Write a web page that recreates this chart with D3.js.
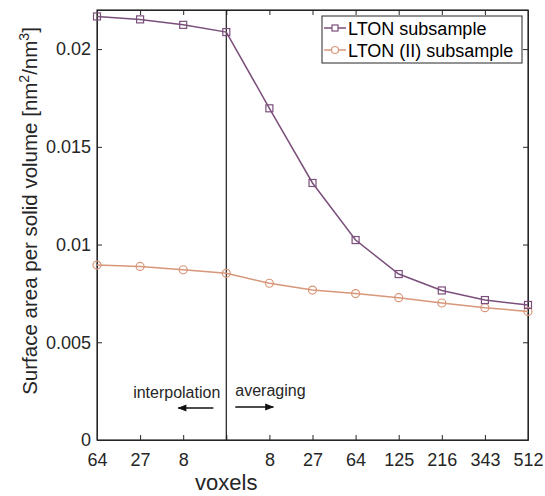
<!DOCTYPE html>
<head>
  <meta charset="utf-8">
  <style>
    body { margin: 0; background: #fff; }
    text { font-family: 'Liberation Sans', Arial, sans-serif; fill: #262626; }
  </style>
</head>
<body>
  <script src="https://cdn.jsdelivr.net/npm/d3@7"></script>
  <script>
    // tick labels along x (blank at the split point)
    const xLabels = ["64", "27", "8", "", "8", "27", "64", "125", "216", "343", "512"];
    const ltonValues = [0.02167, 0.02152, 0.02124, 0.02087, 0.01697, 0.01315, 0.01023, 0.00849, 0.00765, 0.00716, 0.00691];
    const ltonIIValues = [0.00895, 0.00888, 0.00871, 0.00853, 0.00802, 0.00767, 0.00749, 0.00728, 0.00701, 0.00677, 0.00658];
    const yTicks = [0, 0.005, 0.01, 0.015, 0.02];
    const seriesNames = ["LTON subsample", "LTON (II) subsample"];

    const width = 545, height = 496;
    const margin = {top: 10, right: 17, bottom: 56, left: 97};
    const innerWidth = width - margin.left - margin.right;
    const innerHeight = height - margin.top - margin.bottom;
    const purple = "#7b4f7c", orange = "#d8977a";

    const svg = d3.select("body").append("svg")
      .attr("width", width).attr("height", height);
    const g = svg.append("g")
      .attr("transform", "translate(" + margin.left + "," + margin.top + ")");

    const x = d3.scaleLinear().domain([0, xLabels.length - 1]).range([0, innerWidth]);
    const y = d3.scaleLinear().domain([0, 0.022]).range([innerHeight, 0]);
    const idx = d3.range(xLabels.length);

    // axes, MATLAB style: ticks pointing in, box all round
    const tk = 5;
    g.append("g").attr("transform", "translate(0," + innerHeight + ")")
      .call(d3.axisBottom(x).tickValues(idx).tickFormat(i => xLabels[i]).tickSizeInner(-tk).tickSizeOuter(0).tickPadding(13))
      .call(a => a.selectAll("text").style("font-size", "18px"))
      .call(a => a.selectAll("text").filter(i => xLabels[i] === "").remove());
    g.append("g")
      .call(d3.axisTop(x).tickValues(idx).tickFormat("").tickSizeInner(-tk).tickSizeOuter(0))
      .call(a => a.selectAll("text").remove());
    g.append("g")
      .call(d3.axisLeft(y).tickValues(yTicks).tickFormat(d => d === 0 ? "0" : d3.format("")(d)).tickSizeInner(-tk).tickSizeOuter(0).tickPadding(6))
      .call(a => a.selectAll("text").style("font-size", "18px"));
    g.append("g").attr("transform", "translate(" + innerWidth + ",0)")
      .call(d3.axisRight(y).tickValues(yTicks).tickFormat("").tickSizeInner(-tk).tickSizeOuter(0))
      .call(a => a.selectAll("text").remove());
    g.selectAll(".domain, .tick line").attr("stroke", "#262626");
    g.append("rect").attr("width", innerWidth).attr("height", innerHeight)
      .attr("fill", "none").attr("stroke", "#262626").attr("stroke-width", 1.2);

    // split line
    g.append("line").attr("x1", x(3)).attr("x2", x(3)).attr("y1", 0).attr("y2", innerHeight)
      .attr("stroke", "#1a1a1a").attr("stroke-width", 1.2);

    const line = d3.line().x((d, i) => x(i)).y(d => y(d));
    g.append("path").datum(ltonIIValues).attr("d", line)
      .attr("fill", "none").attr("stroke", orange).attr("stroke-width", 1.5);
    g.selectAll(".circ").data(ltonIIValues).enter().append("circle")
      .attr("cx", (d, i) => x(i)).attr("cy", d => y(d)).attr("r", 4)
      .attr("fill", "none").attr("stroke", orange).attr("stroke-width", 1.2);
    g.append("path").datum(ltonValues).attr("d", line)
      .attr("fill", "none").attr("stroke", purple).attr("stroke-width", 1.5);
    g.selectAll(".sq").data(ltonValues).enter().append("rect")
      .attr("x", (d, i) => x(i) - 3.5).attr("y", d => y(d) - 3.5)
      .attr("width", 7).attr("height", 7)
      .attr("fill", "none").attr("stroke", purple).attr("stroke-width", 1.2);

    // annotations
    const ann = g.append("g");
    ann.append("text").attr("x", x(3) - 6).attr("y", 388).attr("text-anchor", "end")
      .style("font-size", "16px").text("interpolation");
    ann.append("text").attr("x", x(3) + 9).attr("y", 386)
      .style("font-size", "16px").text("averaging");
    svg.append("defs").append("marker").attr("id", "ah")
      .attr("viewBox", "0 0 10 10").attr("refX", 9).attr("refY", 5)
      .attr("markerWidth", 10).attr("markerHeight", 9).attr("markerUnits", "userSpaceOnUse")
      .attr("orient", "auto")
      .append("path").attr("d", "M0,1 L10,5 L0,9 Z").attr("fill", "#111");
    ann.append("line").attr("x1", x(3) - 13).attr("x2", x(3) - 48).attr("y1", 398).attr("y2", 398)
      .attr("stroke", "#111").attr("stroke-width", 1.3).attr("marker-end", "url(#ah)");
    ann.append("line").attr("x1", x(3) + 9).attr("x2", x(3) + 47).attr("y1", 397).attr("y2", 397)
      .attr("stroke", "#111").attr("stroke-width", 1.3).attr("marker-end", "url(#ah)");

    // axis titles
    svg.append("text").attr("x", margin.left + x(3)).attr("y", 490)
      .attr("text-anchor", "middle").style("font-size", "22px").text("voxels");
    const yl = svg.append("text").attr("transform", "translate(37," + 211 + ") rotate(-90)")
      .attr("text-anchor", "middle").style("font-size", "20.5px");
    yl.append("tspan").text("Surface area per solid volume [nm");
    yl.append("tspan").attr("dy", -8).style("font-size", "14px").text("2");
    yl.append("tspan").attr("dy", 8).text("/nm");
    yl.append("tspan").attr("dy", -8).style("font-size", "14px").text("3");
    yl.append("tspan").attr("dy", 8).text("]");

    // legend
    const lg = svg.append("g").attr("transform", "translate(322,16)");
    lg.append("rect").attr("width", 200).attr("height", 47)
      .attr("fill", "#fff").attr("stroke", "#262626").attr("stroke-width", 1);
    const items = [{c: purple, s: "sq"}, {c: orange, s: "circ"}];
    items.forEach((it, i) => {
      const cy = 12 + i * 22;
      lg.append("line").attr("x1", 2).attr("x2", 24).attr("y1", cy).attr("y2", cy)
        .attr("stroke", it.c).attr("stroke-width", 1.5);
      if (it.s === "sq") {
        lg.append("rect").attr("x", 10).attr("y", cy - 3).attr("width", 6).attr("height", 6)
          .attr("fill", "#fff").attr("stroke", it.c).attr("stroke-width", 1.2);
      } else {
        lg.append("circle").attr("cx", 13).attr("cy", cy).attr("r", 3.5)
          .attr("fill", "#fff").attr("stroke", it.c).attr("stroke-width", 1.2);
      }
      lg.append("text").attr("x", 26).attr("y", cy + 6.5).style("font-size", "18px")
        .style("fill", "#000").text(seriesNames[i]);
    });
  </script>
</body>
